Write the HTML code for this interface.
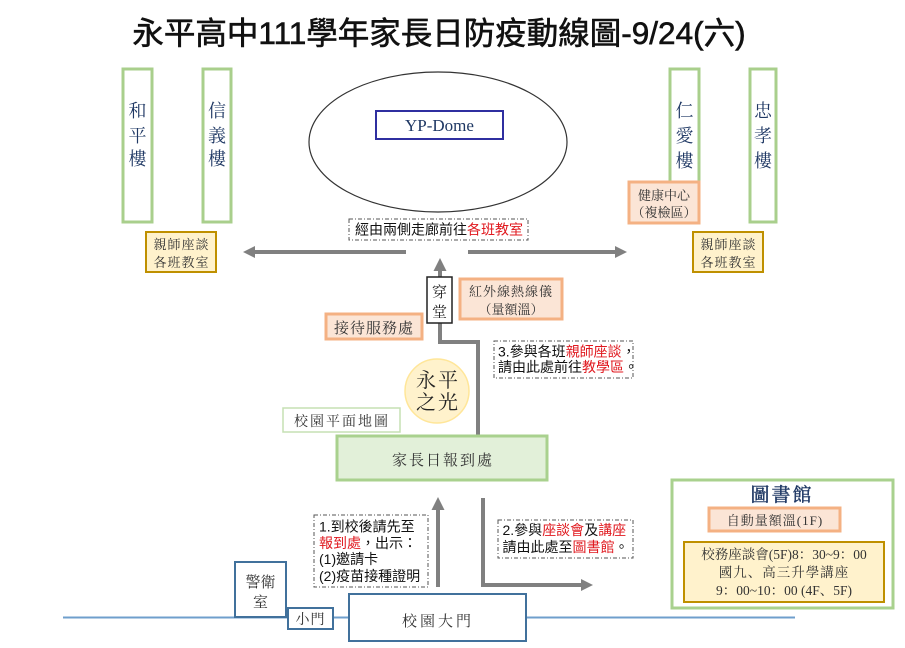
<!DOCTYPE html>
<html><head><meta charset="utf-8"><style>
html,body{margin:0;padding:0;background:#fff;}
svg{display:block;}
.k{font-family:"Liberation Serif","Noto Serif CJK SC",serif;}
.s{font-family:"Liberation Sans","Noto Sans CJK TC",sans-serif;}
</style></head><body>
<svg width="905" height="648" viewBox="0 0 905 648" xmlns="http://www.w3.org/2000/svg">
<rect width="905" height="648" fill="#fff"/>
<!-- Title -->
<text x="439" y="44" class="s" font-size="31.5" fill="#111" stroke="#111" stroke-width="0.6" text-anchor="middle">永平高中111學年家長日防疫動線圖-9/24(六)</text>

<!-- buildings -->
<rect x="123" y="69" width="29" height="153" fill="#fff" stroke="#A9CF8C" stroke-width="3"/>
<rect x="203" y="69" width="28" height="153" fill="#fff" stroke="#A9CF8C" stroke-width="3"/>
<rect x="670" y="69" width="29" height="153" fill="#fff" stroke="#A9CF8C" stroke-width="3"/>
<rect x="750" y="69" width="26" height="153" fill="#fff" stroke="#A9CF8C" stroke-width="3"/>
<g class="k" font-size="18" fill="#1F3864" text-anchor="middle">
<text x="137.5" y="117">和</text><text x="137.5" y="142">平</text><text x="137.5" y="165">樓</text>
<text x="217" y="117">信</text><text x="217" y="142">義</text><text x="217" y="165">樓</text>
<text x="684.5" y="117">仁</text><text x="684.5" y="142">愛</text><text x="684.5" y="167">樓</text>
<text x="763" y="117">忠</text><text x="763" y="142">孝</text><text x="763" y="167">樓</text>
</g>

<!-- health center -->
<rect x="629" y="182" width="70" height="41" fill="#FBE5D6" stroke="#F4B183" stroke-width="3"/>
<g class="k" font-size="13" fill="#333" text-anchor="middle">
<text x="664" y="200">健康中心</text>
<text x="664" y="217">（複檢區）</text>
</g>

<!-- teacher boxes -->
<rect x="146" y="232" width="70" height="40" fill="#FFF2CC" stroke="#BF9000" stroke-width="2"/>
<rect x="693" y="232" width="70" height="40" fill="#FFF2CC" stroke="#BF9000" stroke-width="2"/>
<g class="k" font-size="13" fill="#333" text-anchor="middle" letter-spacing="1">
<text x="181.5" y="249">親師座談</text><text x="181.5" y="267">各班教室</text>
<text x="728.5" y="249">親師座談</text><text x="728.5" y="267">各班教室</text>
</g>

<!-- dome -->
<ellipse cx="438" cy="142" rx="129" ry="70" fill="#fff" stroke="#333" stroke-width="1.2"/>
<rect x="376" y="111" width="127" height="28" fill="#fff" stroke="#2F2FA0" stroke-width="2"/>
<text x="439.5" y="131" class="k" font-size="17" fill="#1F3864" text-anchor="middle">YP-Dome</text>

<!-- corridor label -->
<rect x="349" y="219" width="179" height="21" fill="#fff" stroke="#555" stroke-width="1" stroke-dasharray="4 2 1 2"/>
<text x="355" y="234.5" class="s" font-size="14" fill="#111">經由兩側走廊前往<tspan fill="#E0191F">各班教室</tspan></text>

<!-- arrows -->
<g stroke="#808080" stroke-width="4" fill="none">
<line x1="406" y1="252" x2="253" y2="252"/>
<line x1="468" y1="252" x2="616" y2="252"/>
<polyline points="478,436 478,342 440,342 440,322"/>
<line x1="440" y1="277" x2="440" y2="268"/>
<line x1="438" y1="587" x2="438" y2="507"/>
<polyline points="483,498 483,585 582,585"/>
</g>
<g fill="#808080">
<polygon points="243,252 255,246 255,258"/>
<polygon points="627,252 615,246 615,258"/>
<polygon points="440,258 433.5,271 446.5,271"/>
<polygon points="438,497 431.5,510 444.5,510"/>
<polygon points="593,585 581,579 581,591"/>
</g>

<!-- 穿堂 -->
<rect x="427" y="277" width="25" height="46" fill="#fff" stroke="#222" stroke-width="1.5"/>
<g class="k" font-size="15" fill="#222" text-anchor="middle">
<text x="439.5" y="297">穿</text><text x="439.5" y="317">堂</text>
</g>

<!-- IR thermometer -->
<rect x="460" y="279" width="102" height="40" fill="#FBE5D6" stroke="#F4B183" stroke-width="3"/>
<g class="k" font-size="13" fill="#333" text-anchor="middle">
<text x="511" y="296" letter-spacing="1">紅外線熱線儀</text>
<text x="511" y="314">（量額溫）</text>
</g>

<!-- reception -->
<rect x="326" y="314" width="96" height="25" fill="#FBE5D6" stroke="#F4B183" stroke-width="3"/>
<text x="374" y="333" class="k" font-size="15" fill="#333" text-anchor="middle" letter-spacing="1">接待服務處</text>

<!-- label 3 -->
<rect x="494" y="341" width="139" height="37" fill="#fff" stroke="#555" stroke-width="1" stroke-dasharray="4 2 1 2"/>
<g class="s" font-size="14" fill="#111">
<text x="498" y="356.5">3.參與各班<tspan fill="#E0191F">親師座談</tspan>，</text>
<text x="498" y="372">請由此處前往<tspan fill="#E0191F">教學區</tspan>。</text>
</g>

<!-- 永平之光 -->
<circle cx="437" cy="391" r="32" fill="#FFF2CC" stroke="#FFE699" stroke-width="1.5"/>
<g class="k" font-size="20" fill="#222" text-anchor="middle" letter-spacing="2">
<text x="438" y="387">永平</text><text x="438" y="409">之光</text>
</g>

<!-- map label -->
<rect x="283" y="408" width="117" height="24" fill="#fff" stroke="#C5E0B4" stroke-width="1.5"/>
<text x="342" y="426" class="k" font-size="14" fill="#333" text-anchor="middle" letter-spacing="2">校園平面地圖</text>

<!-- reception desk -->
<rect x="337" y="436" width="210" height="44" fill="#E2F0D9" stroke="#A9D18E" stroke-width="3"/>
<text x="443" y="465" class="k" font-size="15" fill="#333" text-anchor="middle" letter-spacing="2">家長日報到處</text>

<!-- label 1 -->
<rect x="314" y="515" width="114" height="72" fill="#fff" stroke="#555" stroke-width="1" stroke-dasharray="4 2 1 2"/>
<g class="s" font-size="14" fill="#111">
<text x="319" y="531.5">1.到校後請先至</text>
<text x="319" y="548"><tspan fill="#E0191F">報到處</tspan>，出示：</text>
<text x="319" y="564">(1)邀請卡</text>
<text x="319" y="581">(2)疫苗接種證明</text>
</g>

<!-- label 2 -->
<rect x="498" y="520" width="135" height="38" fill="#fff" stroke="#555" stroke-width="1" stroke-dasharray="4 2 1 2"/>
<g class="s" font-size="14" fill="#111">
<text x="502.5" y="535">2.參與<tspan fill="#E0191F">座談會</tspan>及<tspan fill="#E0191F">講座</tspan></text>
<text x="502.5" y="552">請由此處至<tspan fill="#E0191F">圖書館</tspan>。</text>
</g>

<!-- ground line & gate -->
<line x1="63" y1="617.5" x2="795" y2="617.5" stroke="#6F9FCC" stroke-width="2"/>
<rect x="235" y="562" width="51" height="55" fill="#fff" stroke="#41719C" stroke-width="2"/>
<g class="k" font-size="15" fill="#333" text-anchor="middle">
<text x="260.5" y="587">警衛</text><text x="260.5" y="607">室</text>
</g>
<rect x="288" y="608" width="45" height="21" fill="#fff" stroke="#41719C" stroke-width="2"/>
<text x="310.5" y="624" class="k" font-size="14" fill="#333" text-anchor="middle" letter-spacing="1">小門</text>
<rect x="349" y="594" width="177" height="47" fill="#fff" stroke="#41719C" stroke-width="2"/>
<text x="438" y="626" class="k" font-size="15" fill="#333" text-anchor="middle" letter-spacing="3">校園大門</text>

<!-- library -->
<rect x="672" y="480" width="221" height="128" fill="#fff" stroke="#A9D18E" stroke-width="3"/>
<text x="782" y="501" class="k" font-size="19" fill="#1F3864" stroke="#1F3864" stroke-width="0.4" text-anchor="middle" letter-spacing="2">圖書館</text>
<rect x="709" y="508" width="131" height="23" fill="#FBE5D6" stroke="#F4B183" stroke-width="3"/>
<text x="775" y="525" class="k" font-size="13" fill="#333" text-anchor="middle" letter-spacing="1">自動量額溫(1F)</text>
<rect x="684" y="542" width="200" height="60" fill="#FFF2CC" stroke="#BF9000" stroke-width="2"/>
<g class="k" font-size="13.5" fill="#333" text-anchor="middle">
<text x="784" y="559">校務座談會(5F)8：30~9：00</text>
<text x="784" y="577" letter-spacing="1">國九、高三升學講座</text>
<text x="784" y="595">9：00~10：00 (4F、5F)</text>
</g>
</svg>
</body></html>
